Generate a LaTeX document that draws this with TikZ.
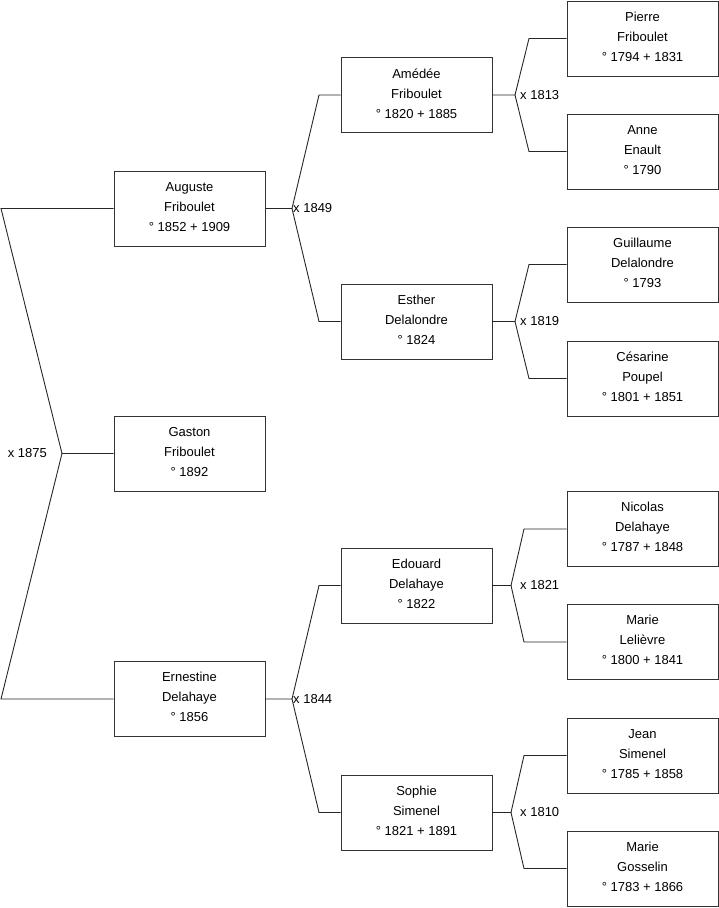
\documentclass[tikz,border=0pt]{standalone}
\usepackage{fontspec}
\setmainfont{Liberation Sans}
\begin{document}
\begin{tikzpicture}[x=1pt,y=-1pt,
  person/.style={draw=black!80,line width=0.9pt,fill=white,minimum width=151pt,minimum height=75pt,
    inner sep=0pt,align=center,font=\fontsize{13}{20}\selectfont,
    execute at end node={\rule[-3.5pt]{0pt}{3.5pt}}},
  link/.style={draw=black!85,line width=0.9pt},
  marr/.style={font=\fontsize{13}{15}\selectfont,inner sep=0pt}]
\useasboundingbox (0,0) rectangle (719,908);
% generation 4
\node[person] (p1) at (642.5,38.5) {Pierre\\Friboulet\\° 1794 + 1831};
\node[person] (p2) at (642.5,151.5) {Anne\\Enault\\° 1790};
\node[person] (p3) at (642.5,264.5) {Guillaume\\Delalondre\\° 1793};
\node[person] (p4) at (642.5,378.5) {Césarine\\Poupel\\° 1801 + 1851};
\node[person] (p5) at (642.5,529) {Nicolas\\Delahaye\\° 1787 + 1848};
\node[person] (p6) at (642.5,642) {Marie\\Lelièvre\\° 1800 + 1841};
\node[person] (p7) at (642.5,755.5) {Jean\\Simenel\\° 1785 + 1858};
\node[person] (p8) at (642.5,868.5) {Marie\\Gosselin\\° 1783 + 1866};
% generation 3
\node[person] (ame) at (416.5,95) {Amédée\\Friboulet\\° 1820 + 1885};
\node[person] (est) at (416.5,321.5) {Esther\\Delalondre\\° 1824};
\node[person] (edo) at (416.5,585.5) {Edouard\\Delahaye\\° 1822};
\node[person] (sop) at (416.5,812.5) {Sophie\\Simenel\\° 1821 + 1891};
% generation 2
\node[person] (aug) at (189.5,208.5) {Auguste\\Friboulet\\° 1852 + 1909};
\node[person] (gas) at (189.5,453.5) {Gaston\\Friboulet\\° 1892};
\node[person] (ern) at (189.5,699) {Ernestine\\Delahaye\\° 1856};
% forks
\coordinate (f0) at (62,453.5);
\coordinate (c0a) at (1,208.5);
\coordinate (c0b) at (1,699);
\coordinate (fa) at (292,208.5);
\coordinate (fe) at (292,699);
\coordinate (f1) at (515,95);
\coordinate (f2) at (515,321.5);
\coordinate (f3) at (511,585.5);
\coordinate (f4) at (511,812.5);
% connectors
\draw[link] (aug.west) -- (c0a) -- (f0) -- (gas.west);
\draw[link] (ern.west) -- (c0b) -- (f0);
\draw[link] (aug.east) -- (fa) -- (319,95) -- (ame.west);
\draw[link] (fa) -- (319,321.5) -- (est.west);
\draw[link] (ern.east) -- (fe) -- (319,585.5) -- (edo.west);
\draw[link] (fe) -- (319,812.5) -- (sop.west);
\draw[link] (ame.east) -- (f1) -- (529,38.5) -- (p1.west);
\draw[link] (f1) -- (529,151.5) -- (p2.west);
\draw[link] (est.east) -- (f2) -- (529,264.5) -- (p3.west);
\draw[link] (f2) -- (529,378.5) -- (p4.west);
\draw[link] (edo.east) -- (f3) -- (524,529) -- (p5.west);
\draw[link] (f3) -- (524,642) -- (p6.west);
\draw[link] (sop.east) -- (f4) -- (524,755.5) -- (p7.west);
\draw[link] (f4) -- (524,868.5) -- (p8.west);
% marriage labels
\node[marr,anchor=east] (m0) at ([xshift=-15pt]f0) {x 1875};
\node[marr,anchor=west] (ma) at ([xshift=1pt]fa) {x 1849};
\node[marr,anchor=west] (me) at ([xshift=1pt]fe) {x 1844};
\node[marr,anchor=west] (m1) at ([xshift=5pt]f1) {x 1813};
\node[marr,anchor=west] (m2) at ([xshift=5pt]f2) {x 1819};
\node[marr,anchor=west] (m3) at ([xshift=9pt]f3) {x 1821};
\node[marr,anchor=west] (m4) at ([xshift=9pt]f4) {x 1810};
\end{tikzpicture}
\end{document}
